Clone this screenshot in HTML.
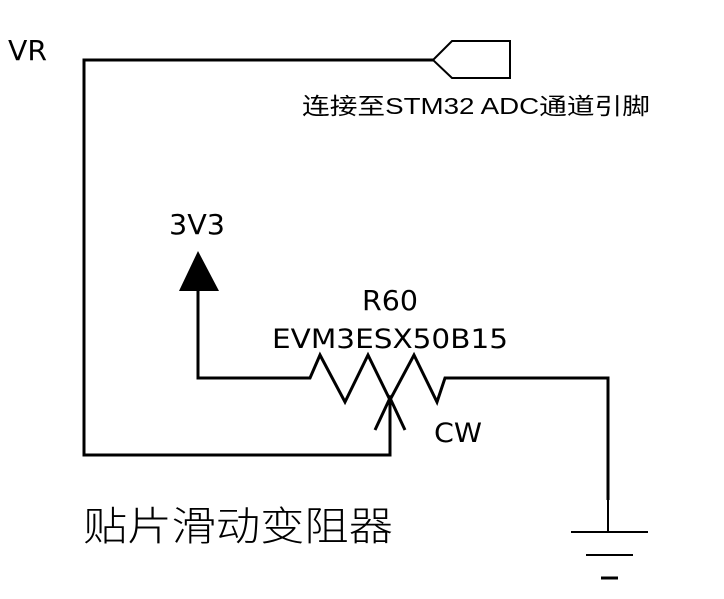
<!DOCTYPE html>
<html><head><meta charset="utf-8"><style>html,body{margin:0;padding:0;background:#fff;}svg{display:block}</style></head>
<body>
<svg width="724" height="599" viewBox="0 0 724 599" xmlns="http://www.w3.org/2000/svg">
<g fill="none" stroke="#000" stroke-width="3" stroke-linejoin="miter">
<polyline points="433,60 84,60 84,455 390,455 390,398"/>
<polyline points="198,291 198,378 310,378 320,355 345,402 368,355 390,400 414,355 437,402 445,378 608,378 608,500"/>
<polyline points="375,430 390,398 405,430"/>
</g>
<g fill="none" stroke="#000" stroke-width="2">
<polygon points="433,60 452,41 510,41 510,78 452,78"/>
<line x1="608" y1="500" x2="608" y2="532"/>
<line x1="571" y1="532" x2="648" y2="532"/>
<line x1="586" y1="555" x2="633" y2="555"/>
<line x1="601" y1="578" x2="618" y2="578" stroke-width="3"/>
</g>
<polygon points="198,251 179,291 219,291" fill="#000"/>
<g font-family="DejaVu Sans, sans-serif" fill="#000">
<text x="8" y="60" font-size="28" textLength="39" lengthAdjust="spacingAndGlyphs">VR</text>
<text x="169" y="234" font-size="28" textLength="56" lengthAdjust="spacingAndGlyphs">3V3</text>
<text x="362" y="310" font-size="28" textLength="56" lengthAdjust="spacingAndGlyphs">R60</text>
<text x="272" y="348" font-size="27" textLength="236" lengthAdjust="spacingAndGlyphs">EVM3ESX50B15</text>
<text x="434" y="442" font-size="27" textLength="48" lengthAdjust="spacingAndGlyphs">CW</text>
</g>
<text x="302" y="114" font-family="Liberation Sans, Noto Sans CJK SC, sans-serif" font-size="23" textLength="348" lengthAdjust="spacingAndGlyphs" fill="#000">连接至STM32  ADC通道引脚</text>
<text x="83" y="540" font-family="Noto Sans CJK SC, sans-serif" font-weight="300" font-size="40" textLength="310" lengthAdjust="spacingAndGlyphs" fill="#000">贴片滑动变阻器</text>
</svg>
</body></html>
